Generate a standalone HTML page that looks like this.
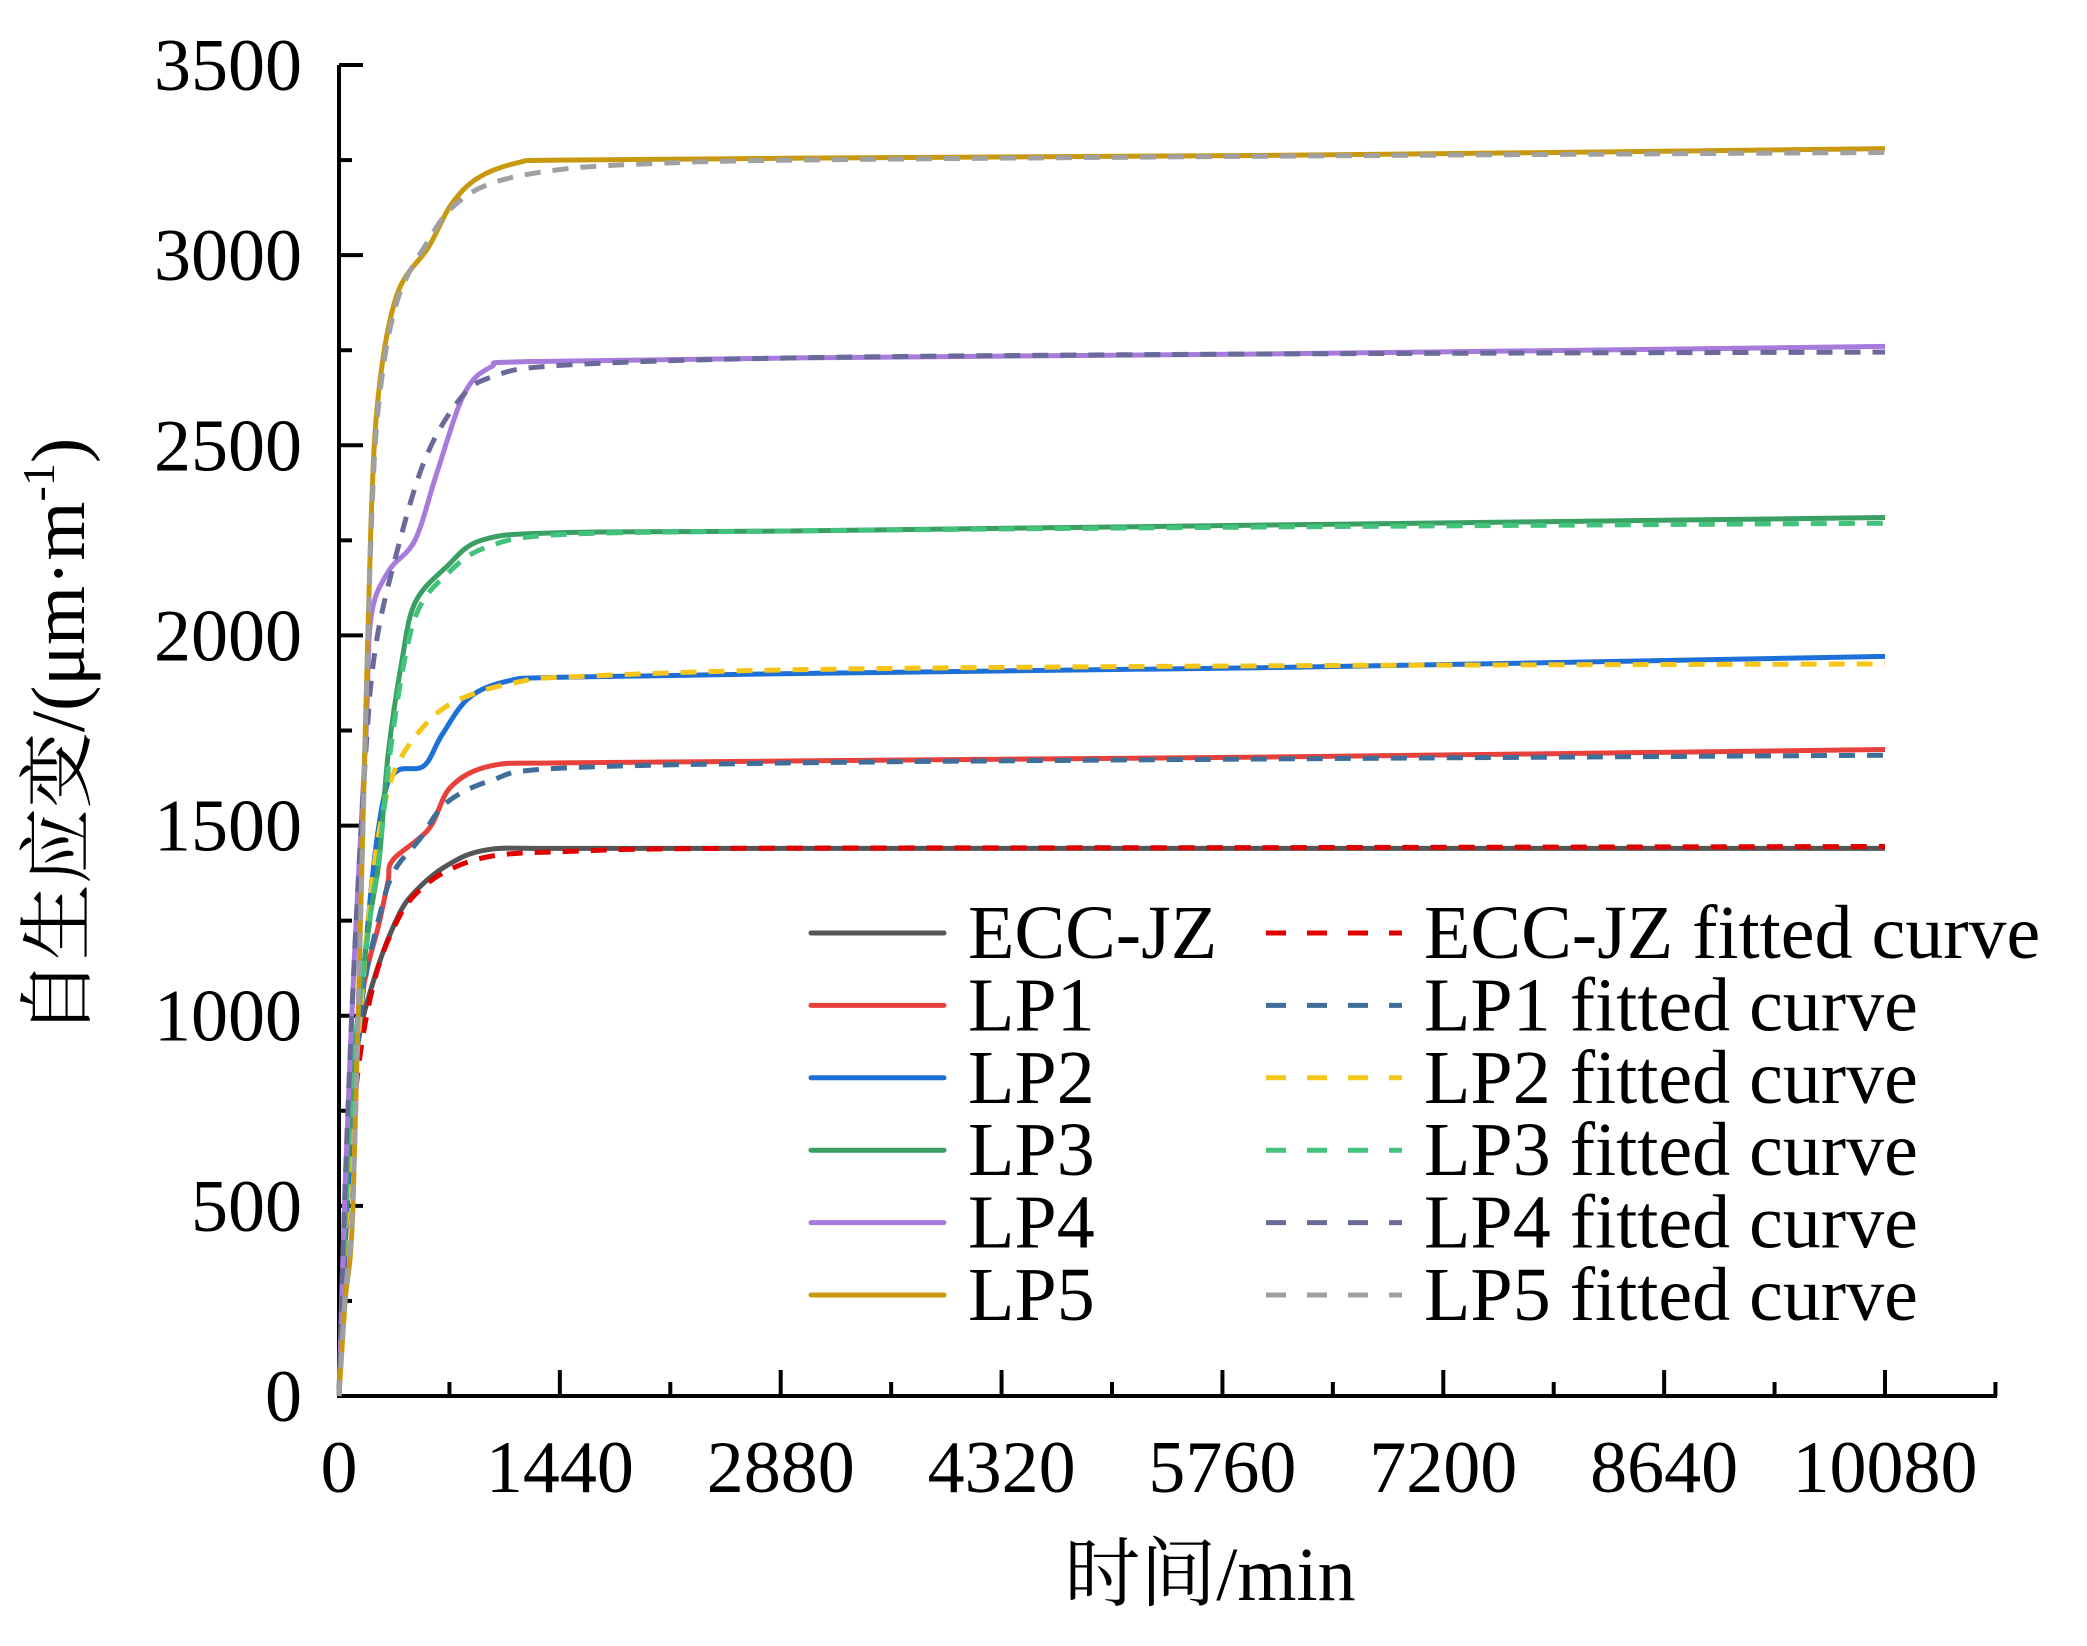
<!DOCTYPE html>
<html><head><meta charset="utf-8">
<style>
html,body{margin:0;padding:0;background:#fff;}
svg{display:block;}
text{font-family:"Liberation Serif","Noto Serif CJK SC",serif;fill:#000;}
</style></head>
<body>
<svg id="chart" width="2087" height="1646" viewBox="0 0 2087 1646" xmlns="http://www.w3.org/2000/svg">
<g id="grid-axes"></g>
<g id="series"></g>
<g id="legend"></g>
<text x="1210" y="1600" text-anchor="middle" font-size="76">时间/min</text>
<text transform="translate(84,737) rotate(-90)" text-anchor="middle" font-size="76">自生应变/(μm·m<tspan dy="-30" font-size="46">-1</tspan><tspan dy="30">)</tspan></text>
</svg>
<script>
// ---- data ----
const xTicks = [0,1440,2880,4320,5760,7200,8640,10080];
const yTicks = [0,500,1000,1500,2000,2500,3000,3500];
const seriesNames = ["ECC-JZ","LP1","LP2","LP3","LP4","LP5"];
const tECC = [0,32,60,117,235,380,496,700,962,1440,3000,6000,10080];
const vECC = [0,360,636,913,1105,1257,1326,1394,1436,1440,1440,1440,1440];
const tECCfit = [0,40,80,150,250,380,500,700,1000,1500,2500,6000,10080];
const vECCfit = [0,380,680,930,1120,1250,1320,1380,1420,1432,1440,1442,1445];
const tLP1 = [0,40,80,150,262,320,352,585,730,991,1440,3000,6000,10080];
const vLP1 = [0,380,700,1049,1244,1354,1410,1491,1602,1657,1665,1670,1680,1700];
const tLP1fit = [0,40,80,150,262,360,528,700,1000,1400,3000,6000,10080];
const vLP1fit = [0,380,700,1040,1260,1380,1465,1560,1620,1650,1665,1675,1685];
const tLP2 = [0,40,100,208,293,380,554,672,848,1100,1440,3000,6000,10080];
const vLP2 = [0,400,800,1326,1575,1644,1657,1739,1836,1880,1890,1900,1915,1945];
const tLP2fit = [0,40,100,208,300,410,640,900,1200,1440,3000,6000,10080];
const vLP2fit = [0,400,800,1320,1560,1683,1796,1850,1880,1890,1910,1920,1925];
const tLP3 = [0,40,100,200,262,320,410,496,700,934,1440,3000,6000,10080];
const vLP3 = [0,450,900,1250,1410,1686,1933,2086,2180,2251,2270,2275,2290,2310];
const tLP3fit = [0,40,100,200,262,330,420,520,700,950,1440,3000,6000,10080];
const vLP3fit = [0,450,900,1250,1420,1680,1920,2070,2160,2230,2265,2275,2285,2295];
const tLP4 = [0,40,100,176,208,320,496,640,816,991,1225,3000,6000,10080];
const vLP4 = [0,550,1150,1741,2044,2167,2251,2430,2635,2706,2720,2730,2740,2760];
const tLP4fit = [0,40,100,176,235,352,554,789,1000,1440,3000,6000,10080];
const vLP4fit = [0,550,1150,1700,1960,2180,2456,2622,2680,2710,2730,2740,2745];
const tLP5 = [0,40,91,150,208,262,380,585,730,906,1167,1440,3000,6000,10080];
const vLP5 = [0,250,497,1410,2291,2651,2898,3022,3132,3203,3243,3250,3255,3262,3280];
const tLP5fit = [0,40,91,150,208,262,380,585,750,1000,1440,2000,3000,6000,10080];
const vLP5fit = [0,260,520,1400,2250,2620,2880,3040,3130,3190,3225,3240,3250,3260,3270];

const solidColors = ["#555555","#e8413c","#1f6fd8","#3a9f62","#a77bdc","#c8990e"];
const fitColors = ["#e00000","#3f6e9a","#f5c518","#42c27a","#6a6a9a","#a0a0a0"];

const NS = "http://www.w3.org/2000/svg";
const X0 = 339, X1 = 1885, Y0 = 1396, Y1 = 65;
const xs = t => X0 + (t/10080)*(X1-X0);
const ys = v => Y0 - (v/3500)*(Y0-Y1);
function mk(tag, attrs, parent){const e=document.createElementNS(NS,tag);for(const k in attrs)e.setAttribute(k,attrs[k]);parent.appendChild(e);return e;}

const ax = document.getElementById('grid-axes');
let l = mk('line',{x1:X0,y1:Y1,x2:X0,y2:Y0+2,stroke:'#000','stroke-width':4},ax);


l = mk('line',{x1:X0-2,y1:Y0,x2:1997,y2:Y0,stroke:'#000','stroke-width':4},ax);


xTicks.forEach(t=>{
  const tk = mk('line',{x1:xs(t),y1:Y0,x2:xs(t),y2:Y0-26,stroke:'#000','stroke-width':4},ax);
  
  
  const mt = t+720;
  const m = mk('line',{x1:xs(mt),y1:Y0,x2:xs(mt),y2:Y0-14,stroke:'#000','stroke-width':4},ax);
  
  
  const tx = mk('text',{x:xs(t),y:1492,'text-anchor':'middle','font-size':74},ax);
  tx.textContent = t;
  
  
});
yTicks.forEach(v=>{
  const tk = mk('line',{x1:X0,y1:ys(v),x2:X0+24,y2:ys(v),stroke:'#000','stroke-width':4},ax);
  
  
  if(v<3500){
    const m = mk('line',{x1:X0,y1:ys(v+250),x2:X0+13,y2:ys(v+250),stroke:'#000','stroke-width':4},ax);
    
    
  }
  const tx = mk('text',{x:302,y:ys(v)+25,'text-anchor':'end','font-size':74},ax);
  tx.textContent = v;
  
  
});

const sg = document.getElementById('series');
const solid = [[tECC,vECC],[tLP1,vLP1],[tLP2,vLP2],[tLP3,vLP3],[tLP4,vLP4],[tLP5,vLP5]];
const fits = [[tECCfit,vECCfit],[tLP1fit,vLP1fit],[tLP2fit,vLP2fit],[tLP3fit,vLP3fit],[tLP4fit,vLP4fit],[tLP5fit,vLP5fit]];
function pathD(T,V){
  const p = T.map((t,i)=>[xs(t),ys(V[i])]);
  let d = `M${p[0][0]},${p[0][1]}`;
  for(let i=0;i<p.length-1;i++){
    const p0=p[Math.max(0,i-1)],p1=p[i],p2=p[i+1],p3=p[Math.min(p.length-1,i+2)];
    const c1=[p1[0]+(p2[0]-p0[0])/6,p1[1]+(p2[1]-p0[1])/6];
    const c2=[p2[0]-(p3[0]-p1[0])/6,p2[1]-(p3[1]-p1[1])/6];
    d+=` C${c1[0]},${c1[1]} ${c2[0]},${c2[1]} ${p2[0]},${p2[1]}`;
  }
  return d;
}
solid.forEach((s,i)=>{
  const p = mk('path',{d:pathD(s[0],s[1]),fill:'none',stroke:solidColors[i],'stroke-width':5,'stroke-linejoin':'round'},sg);
  
  
});
fits.forEach((s,i)=>{
  const p = mk('path',{d:pathD(s[0],s[1]),fill:'none',stroke:fitColors[i],'stroke-width':5,'stroke-dasharray':'16 12'},sg);
  
  
});

const lg = document.getElementById('legend');
seriesNames.forEach((n,i)=>{
  const y = 933 + i*72.4;
  const a = mk('line',{x1:811,y1:y,x2:944,y2:y,stroke:solidColors[i],'stroke-width':5,'stroke-linecap':'round'},lg);
  
  
  const t = mk('text',{x:968,y:y+25,'font-size':76},lg);
  t.textContent = n;
  
  
  const b = mk('line',{x1:1266,y1:y,x2:1402,y2:y,stroke:fitColors[i],'stroke-width':5,'stroke-dasharray':'20 21'},lg);
  
  
  const u = mk('text',{x:1424,y:y+25,'font-size':76},lg);
  u.textContent = n+' fitted curve';
  
  
});
</script>
</body></html>
